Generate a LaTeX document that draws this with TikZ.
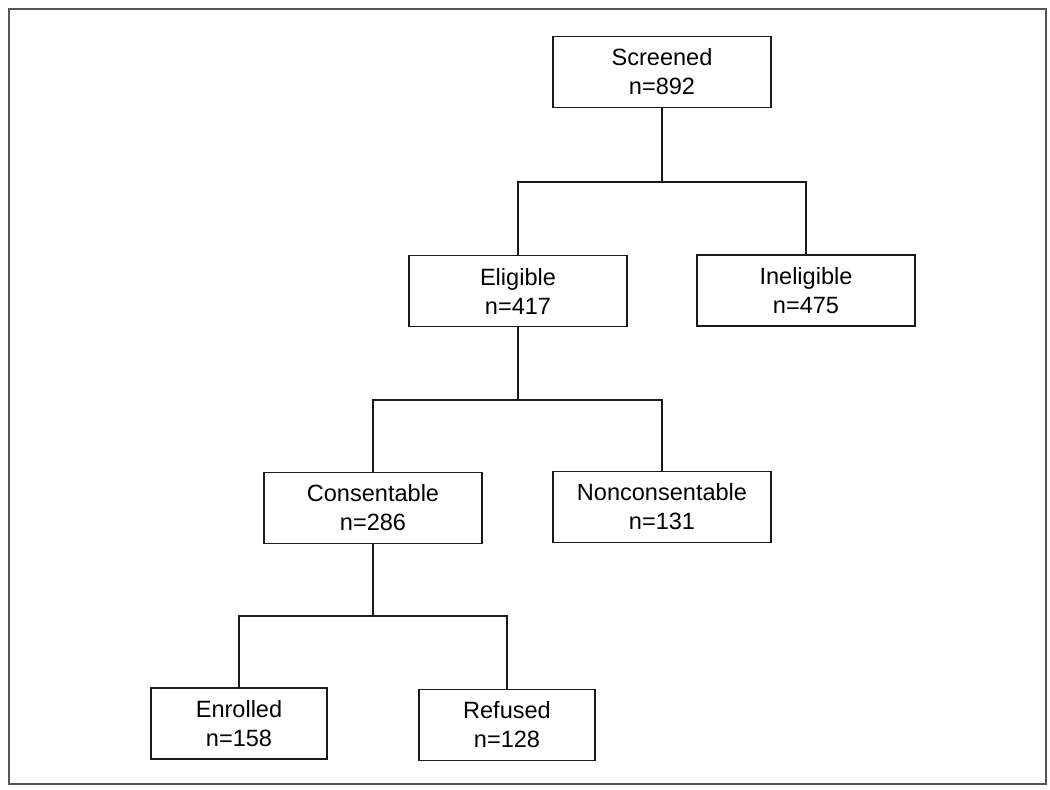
\documentclass[tikz,border=0pt]{standalone}
\usepackage{fontspec}
\setmainfont{Liberation Sans}
\usepackage{xcolor}
\usepackage{tikz}
\usetikzlibrary{calc}
\definecolor{ink}{HTML}{1A1A1A}
\definecolor{edge}{HTML}{555555}
\tikzset{
  box/.style={draw=ink, line width=1.1pt, fill=white, align=center, inner sep=0pt,
    minimum width=4.36cm, minimum height=1.42cm, font=\fontsize{13.4}{16.5}\selectfont},
  boxs/.style={box, minimum width=3.52cm},
  link/.style={draw=ink, line width=1.1pt, line join=miter},
  frame/.style={draw=edge, line width=1.3pt},
}

\begin{document}
\begin{tikzpicture}
  \useasboundingbox (0,0) rectangle (21,-15.8);
  \draw[frame] (0.18,-0.18) rectangle (20.92,-15.68);

  \node[box]  (scr) at (13.24,-1.44)  {Screened\\n=892};
  \node[box]  (eli) at (10.36,-5.82)  {Eligible\\n=417};
  \node[box]  (ine) at (16.12,-5.81)  {Ineligible\\n=475};
  \node[box]  (con) at (7.46,-10.16)  {Consentable\\n=286};
  \node[box]  (non) at (13.24,-10.14) {Nonconsentable\\n=131};
  \node[boxs] (enr) at (4.78,-14.47)  {Enrolled\\n=158};
  \node[boxs] (ref) at (10.14,-14.50) {Refused\\n=128};

  \coordinate (j1) at ($(scr.south)+(0,-1.48)$);
  \coordinate (j2) at ($(eli.south)+(0,-1.46)$);
  \coordinate (j3) at ($(con.south)+(0,-1.44)$);

  \draw[link] (scr.south) -- (j1);
  \draw[link] (eli.north) |- (j1) -| (ine.north);
  \draw[link] (eli.south) -- (j2);
  \draw[link] (con.north) |- (j2) -| (non.north);
  \draw[link] (con.south) -- (j3);
  \draw[link] (enr.north) |- (j3) -| (ref.north); % bottom split
\end{tikzpicture}
\end{document}
